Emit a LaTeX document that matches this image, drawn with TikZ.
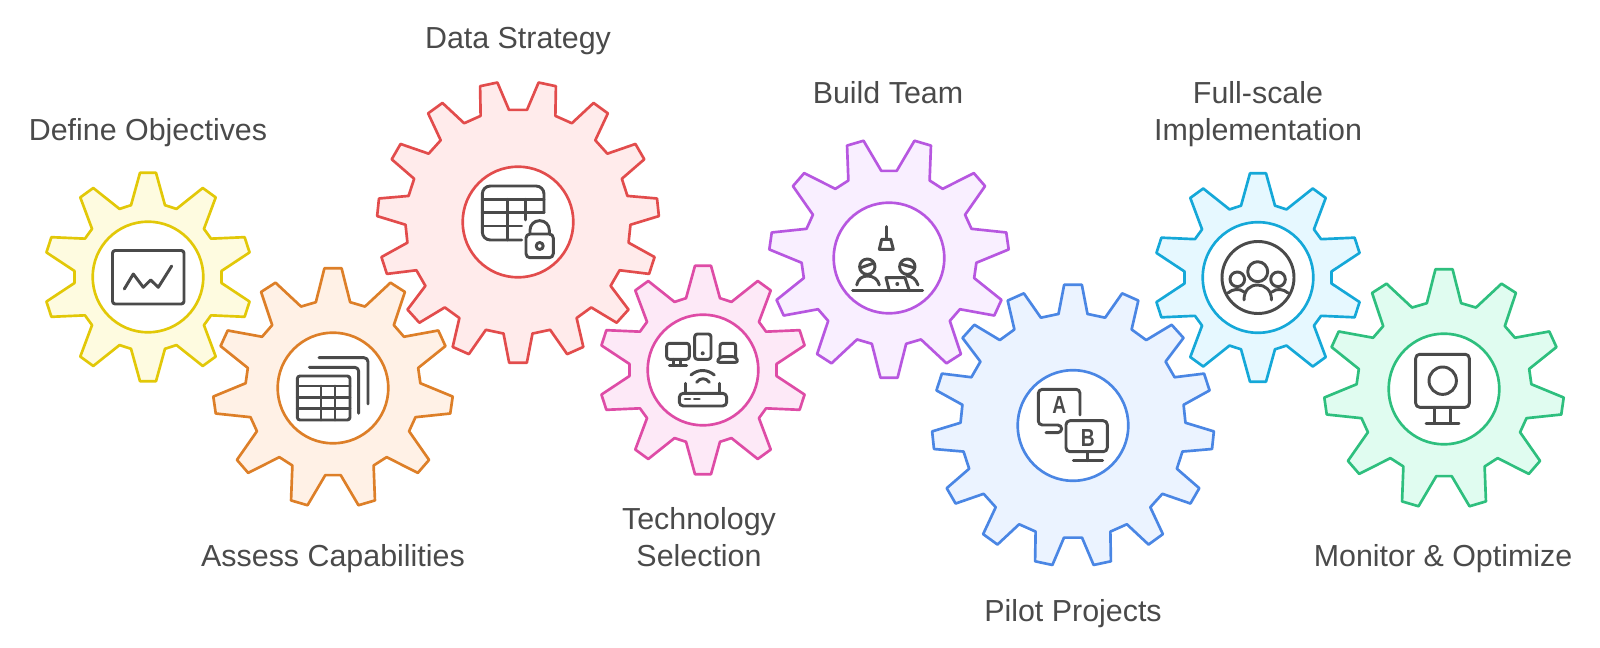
\documentclass[tikz,border=0pt]{standalone}
\usepackage{fontspec}
\setmainfont{Liberation Sans}
\definecolor{inkgrey}{HTML}{4A4A4A}
\definecolor{yellowline}{HTML}{E2C808}
\definecolor{yellowfill}{HTML}{FEFBE0}
\definecolor{orangeline}{HTML}{DD7F28}
\definecolor{orangefill}{HTML}{FFF1E6}
\definecolor{redline}{HTML}{E24C4C}
\definecolor{redfill}{HTML}{FFEBEB}
\definecolor{pinkline}{HTML}{DE4CA6}
\definecolor{pinkfill}{HTML}{FDE9F7}
\definecolor{purpleline}{HTML}{B757E0}
\definecolor{purplefill}{HTML}{F9EFFF}
\definecolor{blueline}{HTML}{4A86E4}
\definecolor{bluefill}{HTML}{EBF3FF}
\definecolor{cyanline}{HTML}{15A8D8}
\definecolor{cyanfill}{HTML}{E6F8FF}
\definecolor{greenline}{HTML}{2EBF7E}
\definecolor{greenfill}{HTML}{E0FCF0}
\tikzset{
  gearline/.style 2 args={draw=#1,fill=#2,line width=2pt,line join=round},
  hub/.style={circle,draw=#1,fill=white,line width=2pt,minimum size=83pt,inner sep=0pt},
  icon/.style={draw=inkgrey,line width=2.2pt,line cap=round,line join=round},
  gearlabel/.style={font=\fontsize{22.8}{27.75}\selectfont,text=inkgrey,align=center},
  iconletter/.style={font=\bfseries\fontsize{18.5}{18.5}\selectfont,text=inkgrey,inner sep=0pt,xscale=0.78}
}
% x, y, teeth, tip radius, root radius, tip half angle, root half angle, phase, colours
\newcommand{\gearwheel}[9]{
  \draw[gearline/.expanded={#9},shift={(#1,#2)}] ({#8-#7}:#5)
    \foreach \i in {1,...,#3} {
      -- ({#8+(\i-1)*360/#3-#6}:#4) -- ({#8+(\i-1)*360/#3+#6}:#4)
      -- ({#8+(\i-1)*360/#3+#7}:#5) -- ({#8+\i*360/#3-#7}:#5)
    } -- cycle;
}
\begin{document}
\begin{tikzpicture}[x=0.75pt,y=-0.75pt]
\useasboundingbox (0,0) rectangle (1600,648);

% Gears
\gearwheel{148}{277}{10}{104.5}{73.8}{4.4}{13.3}{-90}{{yellowline}{yellowfill}}
\gearwheel{333}{388}{11}{120}{87.5}{4.1}{11.3}{-90}{{orangeline}{orangefill}}
\gearwheel{518}{222}{15}{141}{112.5}{3.6}{7.4}{90}{{redline}{redfill}}
\gearwheel{703}{370}{10}{104.5}{73.8}{4.4}{13.3}{-90}{{pinkline}{pinkfill}}
\gearwheel{889}{258}{11}{120}{87.5}{4.1}{11.3}{90}{{purpleline}{purplefill}}
\gearwheel{1073}{425.5}{15}{141}{112.5}{3.6}{7.4}{-90}{{blueline}{bluefill}}
\gearwheel{1258}{277.5}{10}{104.5}{73.8}{4.4}{13.3}{-90}{{cyanline}{cyanfill}}
\gearwheel{1444}{389}{11}{120}{87.5}{4.1}{11.3}{-90}{{greenline}{greenfill}}

% Hubs
\node[hub=yellowline] (hubdefine) at (148,277) {};
\node[hub=orangeline] (hubassess) at (333,388) {};
\node[hub=redline] (hubdata) at (518,222) {};
\node[hub=pinkline] (hubtech) at (703,370) {};
\node[hub=purpleline] (hubteam) at (889,258) {};
\node[hub=blueline] (hubpilot) at (1073,425.5) {};
\node[hub=cyanline] (hubfull) at (1258,277.5) {};
\node[hub=greenline] (hubmonitor) at (1444,389) {};

% Labels
\node[gearlabel,anchor=base] (define) at (148,140.5) {Define Objectives};
\node[gearlabel,anchor=base] (assess) at (333,566) {Assess Capabilities};
\node[gearlabel,anchor=base] (data) at (518,48.5) {Data Strategy};
\node[gearlabel] (tech) at (699,537) {Technology\\Selection};
\node[gearlabel,anchor=base] (team) at (888,103.75) {Build Team};
\node[gearlabel,anchor=base] (pilot) at (1073,621.75) {Pilot Projects};
\node[gearlabel] (full) at (1258,114) {Full-scale\\Implementation};
\node[gearlabel,anchor=base] (monitor) at (1443,566) {Monitor \& Optimize};

% Icon: chart
\draw[icon,rounded corners=2pt] (112.5,250.5) rectangle (184,304);
\draw[icon] (124.3,289) -- (133.3,274) -- (143.3,287.3) -- (150.7,280) -- (158.3,287.3) -- (171.7,266);

% Icon: stacked tables
\draw[icon,rounded corners=2pt] (297.3,376) rectangle (350,420);
\draw[icon] (297.3,386) -- (350,386) (297.3,397.3) -- (350,397.3) (297.3,408.3) -- (350,408.3);
\draw[icon] (321,386) -- (321,420) (335,386) -- (335,420);
\draw[icon,rounded corners=3pt] (309.3,367.3) -- (358.7,367.3) -- (358.7,413.3);
\draw[icon,rounded corners=3pt] (319,357.7) -- (368,357.7) -- (368,404);

% Icon: locked table
\draw[icon,rounded corners=6pt] (521.7,240) -- (482.3,240) -- (482.3,186) -- (544,186) -- (544,212.7);
\draw[icon] (482.3,199.3) -- (544,199.3) (482.3,212.7) -- (544,212.7) (482.3,226) -- (521.7,226);
\draw[icon] (507.7,199.3) -- (507.7,240) (525.3,199.3) -- (525.3,220);
\draw[icon,rounded corners=3pt] (526,234) rectangle (553.3,257.7);
\draw[icon,rounded corners=7pt] (530,234) -- (530,220.7) -- (549.3,220.7) -- (549.3,234);
\draw[icon] (539.7,246) circle[radius=3.5];

% Icon: devices and router
\draw[icon,rounded corners=2pt] (666.7,343.3) rectangle (689.3,359.3);
\draw[icon] (673.3,359.3) -- (673.3,365.7) (680.7,359.3) -- (680.7,365.7) (669.3,365.7) -- (686.7,365.7);
\draw[icon,rounded corners=2pt] (694.7,334) rectangle (711,359.3);
\fill[inkgrey] (702.7,353.3) circle[radius=2];
\draw[icon,rounded corners=2pt] (720,356.7) -- (720,343.3) -- (735.7,343.3) -- (735.7,356.7);
\draw[icon,rounded corners=2pt] (720,356.7) -- (735.7,356.7) -- (738.3,362.3) -- (716.7,362.3) -- cycle;
\draw[icon] (691,375) .. controls (698,369) and (707,369) .. (714.3,375);
\draw[icon] (696.7,382.3) .. controls (700,377.5) and (706,377.5) .. (709.3,382.3);
\draw[icon,rounded corners=3pt] (679.3,393.3) rectangle (726.7,406);
\draw[icon] (685.7,383.3) -- (685.7,393.3) (719.3,383.3) -- (719.3,393.3);
\draw[icon] (685,399) -- (690,399) (694.3,399) -- (699.3,399);

% Icon: team at a table
\draw[icon] (886.3,226.7) -- (886.3,239.3);
\draw[icon] (881.7,239.3) -- (890.7,239.3) -- (893.3,249.3) -- (879.3,249.3) -- cycle;
\draw[icon] (852.7,290.7) -- (922.7,290.7);
\draw[icon] (867.3,266.7) circle[radius=7.7];
\draw[icon] (860.7,267.7) -- (873.3,263.3);
\draw[icon] (856.7,285) .. controls (858,279) and (862,276) .. (867.5,276) .. controls (873,276) and (878,279) .. (879.3,285);
\draw[icon] (907.3,266.7) circle[radius=7.7];
\draw[icon] (900.7,264) -- (914,267.7);
\draw[icon] (906.7,276) .. controls (912,276) and (916,279) .. (918,285);
\draw[icon] (889.3,290.7) -- (886,277.7) -- (905,277.7) -- (909.3,290.7);
\fill[inkgrey] (897.3,284) circle[radius=2];

% Icon: A/B screens
\draw[icon,rounded corners=3pt] (1080,415) -- (1080,389.3) -- (1038.3,389.3) -- (1038.3,425) -- (1061.7,425) -- (1061.7,432.7) -- (1046,432.7);
\node[iconletter] (lettera) at (1059.2,405.5) {A};
\draw[icon,rounded corners=3pt] (1066,420.7) rectangle (1107.3,451.7);
\node[iconletter] (letterb) at (1087.7,437.7) {B};
\draw[icon] (1087.7,451.7) -- (1087.7,460.7) (1073.3,460.7) -- (1102.7,460.7);

% Icon: group in a circle
\draw[icon] (1258,277.5) circle[radius=36];
\draw[icon] (1257.7,271.7) circle[radius=10];
\draw[icon] (1237.3,279.3) circle[radius=7.3];
\draw[icon] (1278,279.3) circle[radius=7.3];
\draw[icon] (1244,300) .. controls (1244,290) and (1250,285) .. (1257.7,285) .. controls (1265,285) and (1271.5,290) .. (1271.5,300);
\draw[icon] (1228,293) .. controls (1232,289) and (1240,288) .. (1244,292);
\draw[icon] (1288,293) .. controls (1284,289) and (1276,288) .. (1272,292);

% Icon: monitor with circle
\draw[icon,rounded corners=3pt] (1415.7,354.3) rectangle (1469.3,407.3);
\draw[icon] (1442.7,380.7) circle[radius=13.7];
\draw[icon] (1434.3,407.3) -- (1434.3,423.3) (1450.7,407.3) -- (1450.7,423.3) (1426,423.3) -- (1459,423.3);
\end{tikzpicture}
\end{document}
